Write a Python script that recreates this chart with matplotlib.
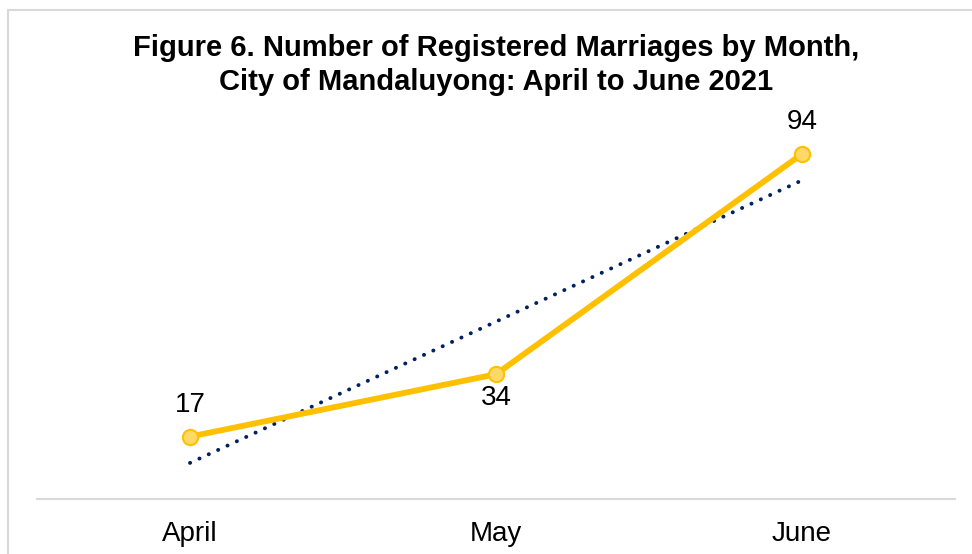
import numpy as np
import matplotlib
matplotlib.use("Agg")
import matplotlib.pyplot as plt
from matplotlib.patches import Rectangle

plt.rcParams['font.family'] = ['Liberation Sans', 'DejaVu Sans']

months = ["April", "May", "June"]
marriages = [17, 34, 94]

x = np.arange(1, len(months) + 1)

# linear trendline like the Excel one
slope, intercept = np.polyfit(x, marriages, 1)
trend = slope * x + intercept

fig = plt.figure(figsize=(9.72, 5.54), dpi=100)
ax = fig.add_axes([37 / 972, 1 - 499 / 554, (955 - 37) / 972, 367 / 554])

# light gray border round the chart (open on right and bottom)
fig.patches.append(Rectangle((8 / 972, -0.1), 1.1, 1 - 10 / 554 + 0.1,
                             transform=fig.transFigure, fill=False,
                             edgecolor='#D9D9D9', linewidth=1.5, clip_on=False))

ax.plot(x, trend, color='#002060', linewidth=2.8, linestyle=(0, (0.05, 2.6)),
        dash_capstyle='round', zorder=2)
ax.plot(x, marriages, color='#FFC000', linewidth=4.2, marker='o', markersize=11,
        markerfacecolor='#FFD966', markeredgecolor='#FFC000', markeredgewidth=1.5,
        zorder=3)

offsets = [23, -17, 23]
for xi, v, off in zip(x, marriages, offsets):
    ax.annotate(str(v), (xi, v), xytext=(0, off), textcoords='offset points',
                ha='center', va='center', fontsize=20)

ax.set_xlim(0.5, 3.5)
ax.set_ylim(0, 100)
ax.set_xticks(x)
ax.set_xticklabels(months)
ax.set_yticks([])
ax.tick_params(axis='x', length=0, pad=15.5, labelsize=20)

for side in ['top', 'right', 'left']:
    ax.spines[side].set_visible(False)
ax.spines['bottom'].set_color('#D9D9D9')
ax.spines['bottom'].set_linewidth(1.5)

fig.text(496 / 972, 1 - 65 / 554,
         "Figure 6. Number of Registered Marriages by Month,\nCity of Mandaluyong: April to June 2021",
         ha='center', va='center', fontsize=21, fontweight='bold', linespacing=1.25)

plt.savefig("out.png", dpi=100)
